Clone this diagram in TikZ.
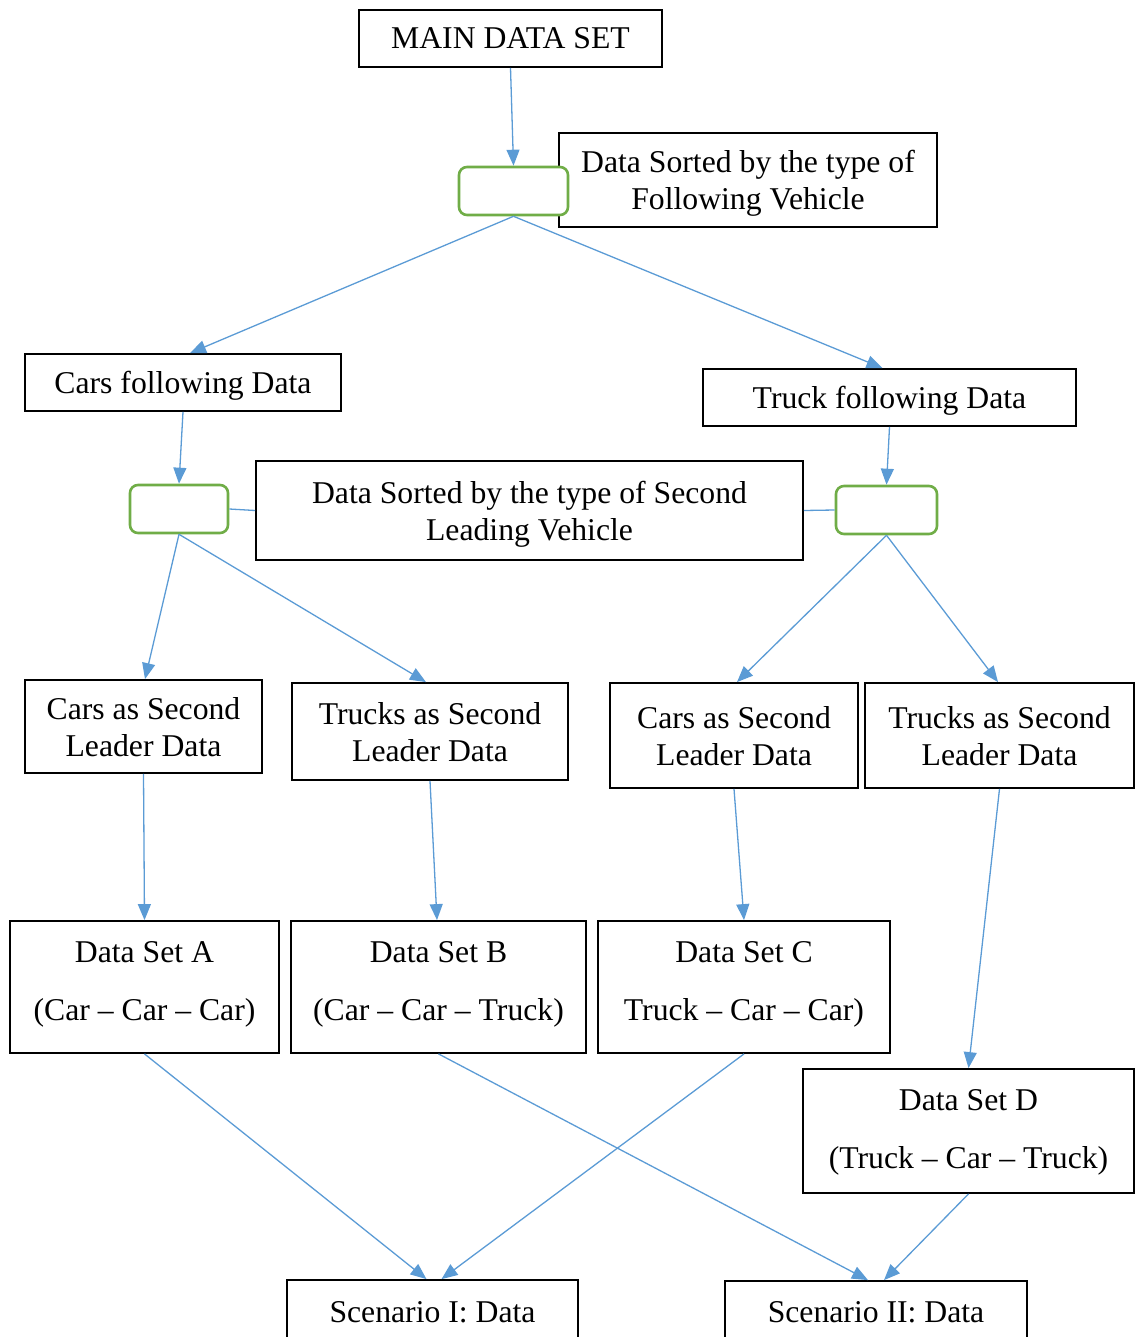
\documentclass[tikz,border=0pt]{standalone}
\usepackage{fontspec}
\setmainfont{Liberation Serif}
\usetikzlibrary{arrows.meta}
\definecolor{linkblue}{HTML}{5B9BD5}
\definecolor{sortgreen}{HTML}{70AD47}
\begin{document}
\begin{tikzpicture}[x=1pt,y=-1pt,
  basefont/.style={font=\fontsize{31.7}{37}\selectfont},
  databox/.style={basefont, draw=black, line width=1.8pt, fill=white,
    inner sep=0pt, align=center, text depth=0pt},
  plaintext/.style={basefont, inner sep=0pt, align=center},
  sorter/.style={draw=sortgreen, line width=2.6pt, rounded corners=8pt,
    fill=white, inner sep=0pt},
  link/.style={draw=linkblue, line width=1.3pt},
  arr/.style={link, -{Triangle[length=16pt,width=13pt]}},
]
\useasboundingbox (0,0) rectangle (1139,1337);
\clip (0,0) rectangle (1139,1337);

% top level
\node[databox, minimum width=303pt, minimum height=57pt] (main) at (510.5,38.5) {MAIN DATA SET};
\node[databox, minimum width=378pt, minimum height=94pt] (lab1) at (748,180)
  {Data Sorted by the type of\\Following Vehicle};
\node[sorter, minimum width=109pt, minimum height=48pt] (g1) at (513.5,191) {};

% following vehicle
\node[databox, minimum width=316pt, minimum height=57pt] (cfd) at (183,382.5) {Cars following Data};
\node[databox, minimum width=373pt, minimum height=57pt] (tfd) at (889.5,397.5) {Truck following Data};

% second leader sorting
\node[databox, minimum width=547pt, minimum height=99pt] (lab2) at (529.5,510.5)
  {Data Sorted by the type of Second\\Leading Vehicle};
\node[sorter, minimum width=98pt, minimum height=48pt] (g2) at (179,509) {};
\node[sorter, minimum width=101pt, minimum height=48pt] (g3) at (886.5,510) {};

% second leader groups
\node[databox, minimum width=237pt, minimum height=93pt] (csA) at (143.5,726.5) {Cars as Second\\Leader Data};
\node[databox, minimum width=276pt, minimum height=97pt] (tsB) at (430,731.5) {Trucks as Second\\Leader Data};
\node[databox, minimum width=248pt, minimum height=105pt] (csC) at (734,735.5) {Cars as Second\\Leader Data};
\node[databox, minimum width=269pt, minimum height=105pt] (tsD) at (999.5,735.5) {Trucks as Second\\Leader Data};

% data sets
\node[databox, minimum width=269pt, minimum height=132pt] (dsA) at (144.5,987) {};
\node[plaintext] (dsAt) at (144.5,984) {Data Set A\\[21pt](Car – Car – Car)};
\node[databox, minimum width=295pt, minimum height=132pt] (dsB) at (438.5,987) {};
\node[plaintext] (dsBt) at (438.5,984) {Data Set B\\[21pt](Car – Car – Truck)};
\node[databox, minimum width=292pt, minimum height=132pt] (dsC) at (744,987) {};
\node[plaintext] (dsCt) at (744,984) {Data Set C\\[21pt]Truck – Car – Car)};
\node[databox, minimum width=331pt, minimum height=124pt] (dsD) at (968.5,1131) {};
\node[plaintext] (dsDt) at (968.5,1132) {Data Set D\\[21pt](Truck – Car – Truck)};

% scenarios
\node[databox, minimum width=291pt, minimum height=120pt] (scI) at (432.5,1340) {};
\node[plaintext] (scIt) at (432.5,1312) {Scenario I: Data};
\node[databox, minimum width=302pt, minimum height=120pt] (scII) at (876,1341) {};
\node[plaintext] (scIIt) at (876,1312) {Scenario II: Data};

% connectors
\draw[arr] (main.south) -- (g1.north);
\draw[arr] (g1.south) -- ([xshift=7pt]cfd.north);
\draw[arr] (g1.south) -- ([xshift=-7pt]tfd.north);
\draw[arr] (cfd.south) -- (g2.north);
\draw[arr] (tfd.south) -- (g3.north);
\draw[link] (g2.east) -- (lab2.west);
\draw[link] (lab2.east) -- (g3.west);
\draw[arr] (g2.south) -- ([xshift=1.5pt]csA.north);
\draw[arr] (g2.south) -- ([xshift=-4pt]tsB.north);
\draw[arr] (g3.south) -- ([xshift=3pt]csC.north);
\draw[arr] (g3.south) -- ([xshift=-1.5pt]tsD.north);
\draw[arr] (csA.south) -- (dsA.north);
\draw[arr] (tsB.south) -- ([xshift=-1.5pt]dsB.north);
\draw[arr] (csC.south) -- (dsC.north);
\draw[arr] (tsD.south) -- (dsD.north);
\draw[arr] (dsA.south) -- ([xshift=-6pt]scI.north);
\draw[arr] (dsC.south) -- ([xshift=9pt]scI.north);
\draw[arr] (dsB.south) -- ([xshift=-8pt]scII.north);
\draw[arr] (dsD.south) -- ([xshift=8pt]scII.north);
\end{tikzpicture}
\end{document}
